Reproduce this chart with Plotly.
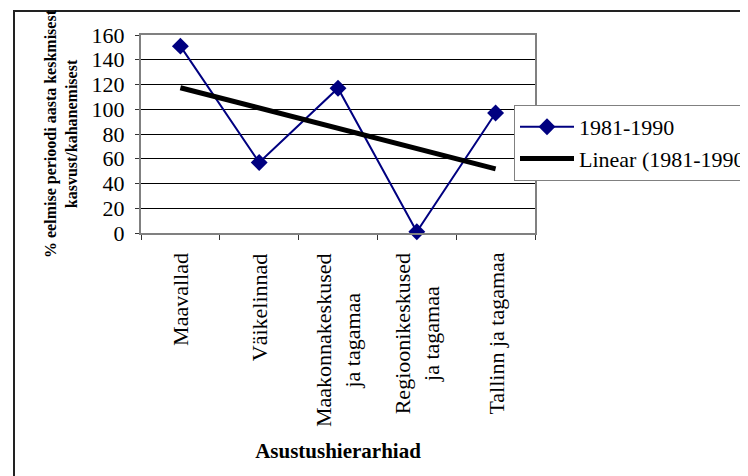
import numpy as np
import plotly.graph_objects as go

categories = ["Maavallad", "Väikelinnad", "Maakonnakeskused<br>ja tagamaa",
              "Regioonikeskused<br>ja tagamaa", "Tallinn ja tagamaa"]
values_1981_1990 = [151, 57, 117, 1, 97]
series_name = "1981-1990"
trend_name = "Linear (1981-1990)"
y_ticks = [0, 20, 40, 60, 80, 100, 120, 140, 160]
y_title = "% eelmise perioodi aasta keskmisest<br>kasvust/kahanemisest"
x_title = "Asustushierarhiad"

OFF = 8  # page body margin
W, H = 748 - OFF, 476 - OFF
L, R, T, B = 141 - OFF, 535 - OFF, 35 - OFF, 233 - OFF
SERIF = "Liberation Serif, Times New Roman, serif"

idx = np.arange(1, len(values_1981_1990) + 1)
slope, intercept = np.polyfit(idx, values_1981_1990, 1)
trend = slope * idx + intercept

fig = go.Figure()
fig.add_trace(go.Scatter(
    x=categories, y=values_1981_1990, name=series_name, mode="lines+markers",
    line=dict(color="#000080", width=2),
    marker=dict(symbol="diamond", size=13, color="#000080"),
    cliponaxis=False))
fig.add_trace(go.Scatter(
    x=[categories[0], categories[-1]], y=[trend[0], trend[-1]], name=trend_name,
    mode="lines", line=dict(color="black", width=5)))

# category labels (centered multi-line, rotated)
for c in categories:
    fig.add_annotation(x=c, xref="x", y=0, yref="paper", yshift=-18,
                       yanchor="top", xanchor="center", textangle=-90,
                       text=c, showarrow=False, align="center",
                       font=dict(family=SERIF, size=22, color="black"))

pw, ph = R - L, B - T
# outer chart border (only left and top visible in the frame)
fig.add_shape(type="rect", xref="paper", yref="paper",
              x0=(14 - OFF - L) / pw, x1=(W + 20 - L) / pw,
              y0=(B - (H + 20)) / ph, y1=(B - (11 - OFF)) / ph,
              line=dict(color="#222222", width=2), layer="below")

fig.update_layout(
    width=W, height=H, template="none",
    paper_bgcolor="white", plot_bgcolor="white",
    margin=dict(l=L, r=W - R, t=T, b=H - B, autoexpand=False),
    font=dict(family=SERIF, size=22, color="black"),
    showlegend=True,
    legend=dict(x=(514 - OFF - L) / pw, y=(B - (105 - OFF)) / ph,
                xanchor="left", yanchor="top",
                bgcolor="white", bordercolor="#808080", borderwidth=1,
                font=dict(family=SERIF, size=22, color="black"),
                itemwidth=54),
    xaxis=dict(type="category", range=[-0.5, len(categories) - 0.5],
               showticklabels=False, ticks="outside", tickson="boundaries",
               ticklen=5, tickcolor="#333333", showgrid=False, zeroline=False,
               showline=True, linecolor="#808080", linewidth=2, mirror=True,
               title=dict(text=x_title, standoff=209,
                          font=dict(family=SERIF, size=21, color="black",
                                    weight="bold"))),
    yaxis=dict(range=[0, 160], tickvals=y_ticks, ticks="outside", ticklen=4,
               tickcolor="#333333", showgrid=True, gridcolor="black", gridwidth=1,
               zeroline=False, showline=True, linecolor="#808080", linewidth=2,
               mirror=True, ticklabelstandoff=6,
               tickfont=dict(family=SERIF, size=22, color="black"),
               title=dict(text=y_title, standoff=10,
                          font=dict(family=SERIF, size=16, color="black",
                                    weight="bold"))),
)

fig.write_html("out.html")
